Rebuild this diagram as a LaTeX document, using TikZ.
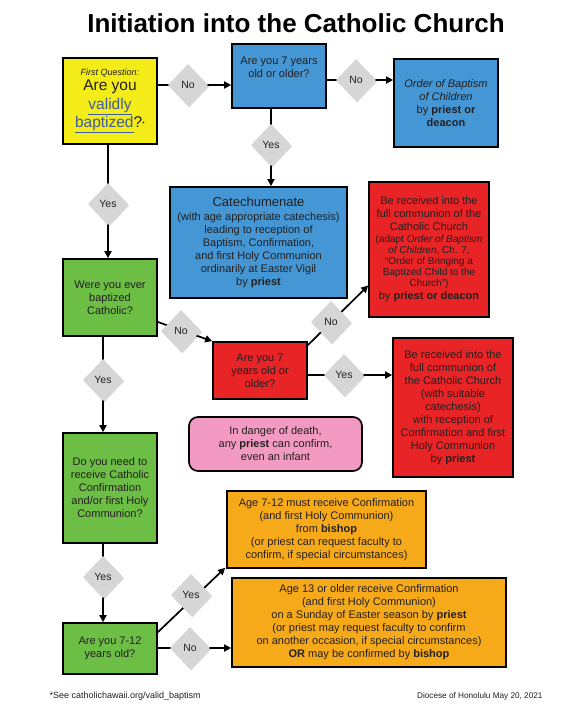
\documentclass[tikz,border=0pt]{standalone}
\usepackage{fontspec}
\setmainfont{Liberation Sans}
\usetikzlibrary{shapes.geometric,arrows.meta,backgrounds,shadows}
\definecolor{yellowF}{HTML}{F3EC19}
\definecolor{blueF}{HTML}{4497D4}
\definecolor{redF}{HTML}{E82427}
\definecolor{greenF}{HTML}{6DBE45}
\definecolor{orangeF}{HTML}{F7AA19}
\definecolor{pinkF}{HTML}{F39AC3}
\definecolor{dgray}{HTML}{D6D6D6}
\definecolor{txt}{HTML}{231F20}
\definecolor{linkc}{HTML}{3F5C9E}
\newcommand{\lnk}[1]{\textcolor{linkc}{\underline{#1}}}
\tikzset{
  box/.style={draw=black, line width=1.7pt, align=center, inner sep=0pt, text=txt,
    font=\fontsize{11}{13}\selectfont},
  dia/.style={diamond, fill=dgray, minimum width=40pt, minimum height=42pt, inner sep=0pt,
    text=txt, font=\fontsize{10.5}{12}\selectfont,
    drop shadow={shadow xshift=1.2pt, shadow yshift=-1.5pt, fill=black, opacity=0.15}},
  arr/.style={line width=1.7pt, draw=black, -{Triangle[length=7pt,width=7pt]}},
}
\begin{document}
\begin{tikzpicture}[x=1pt,y=-1pt]
\useasboundingbox (0,0) rectangle (566,721);

% title
\node[anchor=base, font=\fontsize{26}{30}\selectfont\bfseries] (title) at (296,32) {Initiation into the Catholic Church};

% boxes
\node[box, fill=yellowF, minimum width=94pt, minimum height=86pt, font=\fontsize{15.5}{18.5}\selectfont] (Q1) at (110,101)
  {{\fontsize{9}{11}\selectfont\itshape First Question:}\\[-3.5pt] Are you\\ \lnk{validly}\\ \lnk{baptized}?{\fontsize{7}{7}\selectfont\raisebox{1pt}{*}}};
\node[box, fill=blueF, minimum width=94pt, minimum height=64pt] (Q2) at (279,76)
  {Are you 7 years\\ old or older?\\[5pt]};
\node[box, fill=blueF, minimum width=104pt, minimum height=88pt] (O) at (446,103)
  {\textit{Order of Baptism}\\ \textit{of Children}\\ by \textbf{priest or}\\ \textbf{deacon}};
\node[box, fill=blueF, minimum width=177pt, minimum height=111pt] (Cat) at (258.5,242.5)
  {{\fontsize{13}{13}\selectfont Catechumenate}\\[1pt] (with age appropriate catechesis)\\ leading to reception of\\ Baptism, Confirmation,\\ and first Holy Communion\\ ordinarily at Easter Vigil\\ by \textbf{priest}};
\node[box, fill=redF, minimum width=120pt, minimum height=135pt] (R1) at (429,249.5)
  {Be received into the\\ full communion of the\\ Catholic Church\\[-1pt]
   {\fontsize{10}{11}\selectfont (adapt \textit{Order of Baptism}}\\[-2pt]
   {\fontsize{10}{11}\selectfont \textit{of Children}, Ch. 7,}\\[-2pt]
   {\fontsize{10}{11}\selectfont “Order of Bringing a}\\[-2pt]
   {\fontsize{10}{11}\selectfont Baptized Child to the}\\[-2pt]
   {\fontsize{10}{11}\selectfont Church”)}\\
   by \textbf{priest or deacon}};
\node[box, fill=greenF, minimum width=94pt, minimum height=77pt] (G1) at (110,297.5)
  {Were you ever\\ baptized\\ Catholic?};
\node[box, fill=redF, minimum width=94pt, minimum height=57pt] (R2) at (260,370.5)
  {Are you 7\\ years old or\\ older?};
\node[box, fill=redF, minimum width=120pt, minimum height=139pt] (R3) at (453,407.5)
  {Be received into the\\ full communion of\\ the Catholic Church\\ (with suitable\\ catechesis)\\ with reception of\\ Confirmation and first\\ Holy Communion\\ by \textbf{priest}};
\node[box, fill=pinkF, rounded corners=9pt, minimum width=173pt, minimum height=54pt] (P) at (275.5,444)
  {In danger of death,\\ any \textbf{priest} can confirm,\\ even an infant};
\node[box, fill=greenF, minimum width=94pt, minimum height=110pt] (G2) at (110,488)
  {Do you need to\\ receive Catholic\\ Confirmation\\ and/or first Holy\\ Communion?};
\node[box, fill=orangeF, minimum width=199pt, minimum height=77pt] (O1) at (326.5,529.5)
  {Age 7-12 must receive Confirmation\\ (and first Holy Communion)\\ from \textbf{bishop}\\ (or priest can request faculty to\\ confirm, if special circumstances)};
\node[box, fill=orangeF, minimum width=274pt, minimum height=89pt] (O2) at (369,622.5)
  {Age 13 or older receive Confirmation\\ (and first Holy Communion)\\ on a Sunday of Easter season by \textbf{priest}\\ (or priest may request faculty to confirm\\ on another occasion, if special circumstances)\\ \textbf{OR} may be confirmed by \textbf{bishop}};
\node[box, fill=greenF, minimum width=94pt, minimum height=51pt] (G3) at (110,648.5)
  {Are you 7-12\\ years old?};

% decision diamonds
\node[dia] (d1) at (188,85) {No};
\node[dia] (d2) at (356,80) {No};
\node[dia] (d3) at (271,145) {Yes};
\node[dia] (d4) at (108,204) {Yes};
\node[dia] (d5) at (181,331) {No};
\node[dia] (d6) at (331,322) {No};
\node[dia] (d7) at (344,375) {Yes};
\node[dia] (d8) at (103,380) {Yes};
\node[dia] (d9) at (103,577) {Yes};
\node[dia] (d10) at (191,595) {Yes};
\node[dia] (d11) at (190,648) {No};

% footer
\node[anchor=base west, font=\fontsize{9}{11}\selectfont, text=txt] (fl) at (46,698) {*See catholichawaii.org/valid\_baptism};
\node[anchor=base east, font=\fontsize{8.2}{10}\selectfont, text=txt] (fr) at (546,698) {Diocese of Honolulu May 20, 2021};

% connectors
\begin{scope}[on background layer]
\draw[arr] (d1 -| Q1.east) -- (d1 -| Q2.west);
\draw[arr] (d2 -| Q2.east) -- (d2 -| O.west);
\draw[arr] (d3 |- Q2.south) -- (d3 |- Cat.north);
\draw[arr] (d4 |- Q1.south) -- (d4 |- G1.north);
\draw[arr] ([yshift=-24.5pt]G1.east) -- (R2.north west);
\draw[arr] ([yshift=-4pt]R2.north east) -- ([yshift=-36pt]R1.west);
\draw[arr] (d7 -| R2.east) -- (d7 -| R3.west);
\draw[arr] (d8 |- G1.south) -- (d8 |- G2.north);
\draw[arr] (d9 |- G2.south) -- (d9 |- G3.north);
\draw[arr] ([yshift=-10pt]G3.north east) -- ([xshift=-1pt,yshift=1pt]O1.south west);
\draw[arr] (d11 -| G3.east) -- (d11 -| O2.west);
\end{scope}
\end{tikzpicture}
\end{document}
